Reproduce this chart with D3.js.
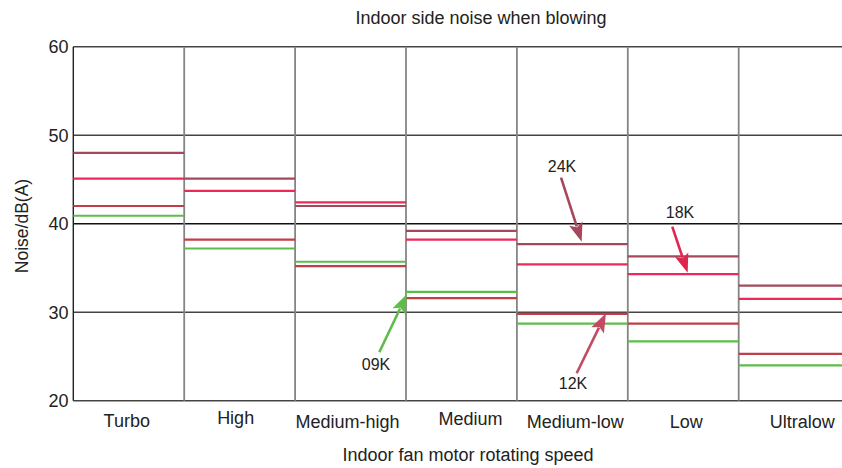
<!DOCTYPE html>
<html>
<head>
<meta charset="utf-8">
<script src="https://cdn.jsdelivr.net/npm/d3@7"></script>
<style>
  html, body { margin: 0; padding: 0; background: #fff; }
  svg { display: block; }
  text { font-family: "Liberation Sans", Arial, Helvetica, sans-serif; fill: #222; }
</style>
</head>
<body>
<svg id="chart" width="842" height="468"></svg>
<script>
// ---------- data ----------
const categories = ["Turbo", "High", "Medium-high", "Medium", "Medium-low", "Low", "Ultralow"];
const series24K = [48.0, 45.1, 42.0, 39.2, 37.7, 36.3, 33.0];
const series18K = [45.1, 43.7, 42.4, 38.2, 35.4, 34.3, 31.5];
const series12K = [42.0, 38.2, 35.2, 31.6, 29.8, 28.7, 25.3];
const series09K = [40.9, 37.2, 35.7, 32.3, 28.7, 26.7, 24.0];
const yTicks = [20, 30, 40, 50, 60];
const seriesNames = ["24K", "18K", "12K", "09K"];
const titleText = "Indoor side noise when blowing";
const xTitleText = "Indoor fan motor rotating speed";
const yTitleText = "Noise/dB(A)";
// annotation arrows: x in category units (0..7), y in dB
const annotLabels = ["09K", "24K", "18K", "12K"];
const annotTipX = [3.009, 4.584, 5.540, 4.803];
const annotTipY = [32.05, 37.97, 34.46, 29.88];
const annotTailX = [2.759, 4.398, 5.401, 4.539];
const annotTailY = [25.47, 45.2, 39.66, 23.10];
const annotTextX = [2.73, 4.407, 5.471, 4.506];
const annotTextY = [23.5, 45.81, 40.61, 21.29];

// ---------- styles / layout ----------
const seriesColors = {"24K": "#a6485c", "18K": "#ec2a58", "12K": "#c03e48", "09K": "#5cbd48"};
const annotColors = ["#5cbd48", "#a6475a", "#e0264f", "#c24a62"];
const labelNudge = [-2, -4, -3, 9, 3, 3, 8];
const labelBaseline = [427, 424, 428, 424.5, 427.5, 428, 428];

const svg = d3.select("#chart");
const W = 842, H = 468;
const mLeft = 73.3, mRight = 849.6, mTop = 46.7, mBottom = 400.7;

const x = d3.scaleBand().domain(categories).range([mLeft, mRight]).padding(0);
const xu = d3.scaleLinear().domain([0, categories.length]).range([mLeft, mRight]);
const y = d3.scaleLinear().domain([20, 60]).range([mBottom, mTop]);

const plot = svg.append("g");

// horizontal gridlines
plot.selectAll("line.hgrid").data(yTicks).enter().append("line")
  .attr("class", "hgrid")
  .attr("x1", mLeft).attr("x2", W)
  .attr("y1", d => y(d)).attr("y2", d => y(d))
  .attr("stroke", d => d === 40 ? "#111" : "#444")
  .attr("stroke-width", 1.4);

// vertical category boundaries
const bounds = d3.range(1, categories.length + 1);
plot.selectAll("line.vgrid").data(bounds).enter().append("line")
  .attr("class", "vgrid")
  .attr("x1", d => xu(d)).attr("x2", d => xu(d))
  .attr("y1", mTop).attr("y2", mBottom)
  .attr("stroke", "#858585")
  .attr("stroke-width", 1.8);

// left axis line
plot.append("line")
  .attr("x1", mLeft).attr("x2", mLeft).attr("y1", mTop).attr("y2", mBottom)
  .attr("stroke", "#222").attr("stroke-width", 1.4);

// y tick labels
svg.selectAll("text.ytick").data(yTicks).enter().append("text")
  .attr("class", "ytick")
  .attr("x", 68.5).attr("y", d => y(d))
  .attr("dy", "0.35em")
  .attr("text-anchor", "end")
  .attr("font-size", 18)
  .text(d => d);

// data level lines
const allSeries = [series24K, series18K, series12K, series09K];
const order = [3, 2, 0, 1]; // draw order: green, red, mauve, pink
order.forEach(si => {
  const name = seriesNames[si];
  plot.selectAll("line.s" + name).data(allSeries[si]).enter().append("line")
    .attr("class", "s" + name)
    .attr("x1", (d, i) => x(categories[i]))
    .attr("x2", (d, i) => x(categories[i]) + x.bandwidth())
    .attr("y1", d => y(d)).attr("y2", d => y(d))
    .attr("stroke", seriesColors[name])
    .attr("stroke-width", 2.2);
});

// category labels
svg.selectAll("text.xcat").data(categories).enter().append("text")
  .attr("class", "xcat")
  .attr("x", (d, i) => x(d) + x.bandwidth() / 2 + labelNudge[i])
  .attr("y", (d, i) => labelBaseline[i])
  .attr("text-anchor", "middle")
  .attr("font-size", 18)
  .text(d => d);

// titles
svg.append("text").attr("x", 481).attr("y", 24).attr("text-anchor", "middle")
  .attr("font-size", 18).text(titleText);
svg.append("text").attr("x", 468).attr("y", 461).attr("text-anchor", "middle")
  .attr("font-size", 18).text(xTitleText);
svg.append("text").attr("transform", "translate(28,226) rotate(-90)")
  .attr("text-anchor", "middle").attr("font-size", 17.5).text(yTitleText);

// annotations
const headLen = 19, headHalf = 7;
annotLabels.forEach((lab, i) => {
  const tx = xu(annotTipX[i]), ty = y(annotTipY[i]);
  const sx = xu(annotTailX[i]), sy = y(annotTailY[i]);
  const dx = tx - sx, dy = ty - sy;
  const len = Math.sqrt(dx * dx + dy * dy);
  const ux = dx / len, uy = dy / len;
  const bx = tx - ux * headLen, by = ty - uy * headLen;
  const px = -uy, py = ux;
  const col = annotColors[i];
  svg.append("line")
    .attr("x1", sx).attr("y1", sy).attr("x2", bx + ux * 3).attr("y2", by + uy * 3)
    .attr("stroke", col).attr("stroke-width", 2.6);
  const nx = tx - ux * headLen * 0.8, ny = ty - uy * headLen * 0.8;
  svg.append("path")
    .attr("d", `M${tx},${ty} L${bx + px * headHalf},${by + py * headHalf} L${nx},${ny} L${bx - px * headHalf},${by - py * headHalf} Z`)
    .attr("fill", col);
  svg.append("text")
    .attr("x", xu(annotTextX[i])).attr("y", y(annotTextY[i]))
    .attr("text-anchor", "middle").attr("font-size", 16)
    .text(lab);
});
</script>
</body>
</html>
